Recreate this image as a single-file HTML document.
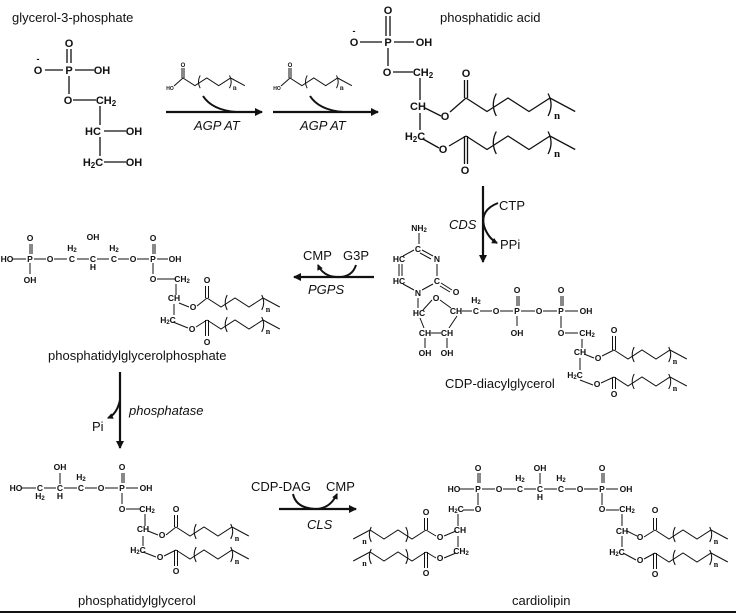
<!DOCTYPE html>
<html><head><meta charset="utf-8"><style>
html,body{margin:0;padding:0;background:#fff}
svg{display:block}
.l{font-family:"Liberation Sans",sans-serif;font-size:13px;fill:#111}
.i{font-family:"Liberation Sans",sans-serif;font-size:13px;font-style:italic;fill:#111}
.a{font-family:"Liberation Sans",sans-serif;font-weight:bold;font-size:11px;fill:#111;text-anchor:middle}
.s{font-family:"Liberation Sans",sans-serif;font-weight:bold;font-size:8.5px;fill:#111;text-anchor:middle}
.n{font-family:"Liberation Serif",serif;font-weight:bold;font-size:8px;fill:#111}
</style></head><body>
<svg id="g" width="736" height="615" viewBox="0 0 736 615" xmlns="http://www.w3.org/2000/svg" stroke="#111" stroke-width="1.3" fill="none">
<defs><marker id="ah" markerWidth="8" markerHeight="8" refX="7" refY="4" orient="auto" markerUnits="userSpaceOnUse"><path d="M0,0 L8,4 L0,8 z" fill="#111" stroke="none"/></marker>
<marker id="sh" markerWidth="6" markerHeight="6" refX="5" refY="3" orient="auto" markerUnits="userSpaceOnUse"><path d="M0,0 L6,3 L0,6 z" fill="#111" stroke="none"/></marker></defs>
<g stroke="none">
<text class="l" x="12" y="22">glycerol-3-phosphate</text>
<text class="l" x="440" y="22">phosphatidic acid</text>
<text class="l" x="48" y="360">phosphatidylglycerolphosphate</text>
<text class="l" x="445" y="388">CDP-diacylglycerol</text>
<text class="l" x="78" y="605">phosphatidylglycerol</text>
<text class="l" x="512" y="605">cardiolipin</text>
<text class="i" x="194" y="130">AGP AT</text>
<text class="i" x="300" y="130">AGP AT</text>
<text class="i" x="449" y="229">CDS</text>
<text class="l" x="499" y="210">CTP</text>
<text class="l" x="500" y="249">PPi</text>
<text class="l" x="303" y="260">CMP</text>
<text class="l" x="343" y="260">G3P</text>
<text class="i" x="308" y="294">PGPS</text>
<text class="i" x="129" y="415">phosphatase</text>
<text class="l" x="92" y="431">Pi</text>
<text class="l" x="251" y="491">CDP-DAG</text>
<text class="l" x="326" y="491">CMP</text>
<text class="i" x="307" y="529">CLS</text>
<!-- G3P -->
<text class="a" x="69" y="47">O</text><text class="a" x="69" y="74">P</text><text class="a" x="38" y="74">O</text><text class="a" x="38" y="62" style="font-size:9px">-</text><text class="a" x="102" y="74">OH</text>
<text class="a" x="68" y="104">O</text><text class="a" x="106" y="104">CH<tspan style="font-size:8px" dy="2">2</tspan></text>
<text class="a" x="93" y="135">HC</text><text class="a" x="134" y="135">OH</text>
<text class="a" x="93" y="166">H<tspan style="font-size:8px" dy="2">2</tspan><tspan dy="-2">C</tspan></text><text class="a" x="134" y="166">OH</text>
<!-- PA -->
<text class="a" x="388" y="14">O</text><text class="a" x="388" y="46">P</text><text class="a" x="354" y="46">O</text><text class="a" x="354" y="34" style="font-size:9px">-</text><text class="a" x="424" y="46">OH</text>
<text class="a" x="387" y="76">O</text><text class="a" x="423" y="76">CH<tspan style="font-size:8px" dy="2">2</tspan></text>
<text class="a" x="418" y="110">CH</text><text class="a" x="415" y="140">H<tspan style="font-size:8px" dy="2">2</tspan><tspan dy="-2">C</tspan></text>
<text class="a" x="445" y="120">O</text><text class="a" x="443" y="153">O</text>
<text class="a" x="466" y="77">O</text><text class="a" x="465" y="174">O</text>
<!-- fatty acids -->
<text class="s" x="170" y="90" style="font-size:5px">HO</text><text class="s" x="183" y="67" style="font-size:6px">O</text>
<text class="s" x="277" y="90" style="font-size:5px">HO</text><text class="s" x="290" y="67" style="font-size:6px">O</text>
<!-- cytidine -->
<text class="s" x="419" y="231">NH<tspan style="font-size:6px" dy="1">2</tspan></text>
<text class="s" x="418" y="252">C</text><text class="s" x="437" y="262">N</text><text class="s" x="437" y="284">C</text><text class="s" x="418" y="296">N</text>
<text class="s" x="399" y="284">HC</text><text class="s" x="399" y="262">HC</text><text class="s" x="456" y="295">O</text>
<text class="s" x="419" y="316">HC</text><text class="s" x="436" y="301">O</text><text class="s" x="456" y="314">CH</text>
<text class="s" x="425" y="336">CH</text><text class="s" x="447" y="336">CH</text><text class="s" x="425" y="356">OH</text><text class="s" x="447" y="356">OH</text>
<text class="s" x="476" y="314">C</text><text class="s" x="476" y="303">H<tspan style="font-size:6px" dy="1">2</tspan></text>
<text class="s" x="496" y="314">O</text><text class="s" x="517" y="314">P</text><text class="s" x="517" y="293">O</text><text class="s" x="517" y="336">OH</text>
<text class="s" x="539" y="314">O</text><text class="s" x="561" y="314">P</text><text class="s" x="561" y="293">O</text><text class="s" x="586" y="314">OH</text>
<text class="s" x="561" y="336">O</text><text class="s" x="587" y="336">CH<tspan style="font-size:6px" dy="1">2</tspan></text>
<text class="s" x="580" y="355">CH</text><text class="s" x="575" y="378">H<tspan style="font-size:6px" dy="1">2</tspan><tspan dy="-1">C</tspan></text>
<text class="s" x="598" y="361">O</text><text class="s" x="597" y="387">O</text><text class="s" x="614" y="333">O</text><text class="s" x="614" y="397">O</text>
<!-- PGP -->
<text class="s" x="7" y="262">HO</text><text class="s" x="30" y="262">P</text><text class="s" x="30" y="241">O</text><text class="s" x="30" y="283">OH</text>
<text class="s" x="50" y="262">O</text><text class="s" x="72" y="262">C</text><text class="s" x="72" y="251">H<tspan style="font-size:6px" dy="1">2</tspan></text>
<text class="s" x="93" y="262">C</text><text class="s" x="93" y="270">H</text><text class="s" x="93" y="240">OH</text>
<text class="s" x="114" y="262">C</text><text class="s" x="114" y="251">H<tspan style="font-size:6px" dy="1">2</tspan></text>
<text class="s" x="133" y="262">O</text><text class="s" x="153" y="262">P</text><text class="s" x="153" y="241">O</text><text class="s" x="175" y="262">OH</text>
<text class="s" x="153" y="282">O</text><text class="s" x="182" y="282">CH<tspan style="font-size:6px" dy="1">2</tspan></text>
<text class="s" x="174" y="301">CH</text><text class="s" x="168" y="323">H<tspan style="font-size:6px" dy="1">2</tspan><tspan dy="-1">C</tspan></text>
<text class="s" x="193" y="310">O</text><text class="s" x="192" y="332">O</text><text class="s" x="207" y="283">O</text><text class="s" x="207" y="345">O</text>
<!-- PG -->
<text class="s" x="16" y="491">HO</text><text class="s" x="40" y="491">C</text><text class="s" x="40" y="499">H<tspan style="font-size:6px" dy="1">2</tspan></text>
<text class="s" x="60" y="491">C</text><text class="s" x="60" y="499">H</text><text class="s" x="60" y="470">OH</text>
<text class="s" x="81" y="491">C</text><text class="s" x="81" y="480">H<tspan style="font-size:6px" dy="1">2</tspan></text>
<text class="s" x="101" y="491">O</text><text class="s" x="122" y="491">P</text><text class="s" x="122" y="470">O</text><text class="s" x="146" y="491">OH</text>
<text class="s" x="122" y="512">O</text><text class="s" x="147" y="512">CH<tspan style="font-size:6px" dy="1">2</tspan></text>
<text class="s" x="143" y="532">CH</text><text class="s" x="138" y="553">H<tspan style="font-size:6px" dy="1">2</tspan><tspan dy="-1">C</tspan></text>
<text class="s" x="162" y="538">O</text><text class="s" x="160" y="560">O</text><text class="s" x="176" y="512">O</text><text class="s" x="176" y="574">O</text>
<!-- cardiolipin -->
<text class="s" x="454" y="492">HO</text><text class="s" x="478" y="492">P</text><text class="s" x="478" y="471">O</text>
<text class="s" x="499" y="492">O</text><text class="s" x="520" y="492">C</text><text class="s" x="520" y="481">H<tspan style="font-size:6px" dy="1">2</tspan></text>
<text class="s" x="540" y="492">C</text><text class="s" x="540" y="500">H</text><text class="s" x="540" y="471">OH</text>
<text class="s" x="561" y="492">C</text><text class="s" x="561" y="481">H<tspan style="font-size:6px" dy="1">2</tspan></text>
<text class="s" x="580" y="492">O</text><text class="s" x="602" y="492">P</text><text class="s" x="602" y="471">O</text><text class="s" x="626" y="492">OH</text>
<text class="s" x="478" y="512">O</text><text class="s" x="456" y="512">H<tspan style="font-size:6px" dy="1">2</tspan><tspan dy="-1">C</tspan></text>
<text class="s" x="460" y="533">CH</text><text class="s" x="461" y="554">CH<tspan style="font-size:6px" dy="1">2</tspan></text>
<text class="s" x="440" y="540">O</text><text class="s" x="440" y="561">O</text><text class="s" x="426" y="515">O</text><text class="s" x="426" y="576">O</text>
<text class="s" x="602" y="512">O</text><text class="s" x="627" y="512">CH<tspan style="font-size:6px" dy="1">2</tspan></text>
<text class="s" x="622" y="534">CH</text><text class="s" x="617" y="555">H<tspan style="font-size:6px" dy="1">2</tspan><tspan dy="-1">C</tspan></text>
<text class="s" x="640" y="540">O</text><text class="s" x="640" y="563">O</text><text class="s" x="655" y="513">O</text><text class="s" x="655" y="577">O</text>
</g>
<g id="dyn"></g>
<!-- G3P bonds -->
<path d="M67,49V63M71,49V63M45,70H63M75,70H94M69,76V94M73,100H96M100,106V125M104,131H126M100,137V156M104,162H126"/>
<!-- PA bonds -->
<path d="M386,16V36M390,16V36M360,42H382M394,42H414M388,48V66M393,72H413M420,78V100M420,113V130M425,108L441,116M423,139L439,148"/>
<!-- reactions -->
<path stroke-width="2.2" marker-end="url(#ah)" d="M166,112H262"/>
<path stroke-width="2.2" marker-end="url(#ah)" d="M273,112H378"/>
<path stroke-width="2" d="M203,96Q212,110 236,112"/><path stroke-width="2" d="M310,96Q319,110 343,112"/>
<path stroke-width="2.2" marker-end="url(#ah)" d="M483,186V262"/>
<path stroke-width="2" marker-end="url(#sh)" d="M498,203Q480,210 484,226Q488,238 497,243"/>
<path stroke-width="2.2" marker-end="url(#ah)" d="M374,277H294"/>
<path stroke-width="2" marker-end="url(#sh)" d="M356,265Q352,278 336,277Q323,276 318,265"/>
<path stroke-width="2.2" marker-end="url(#ah)" d="M120,372V448"/>
<path stroke-width="2" marker-end="url(#sh)" d="M120,400Q117,414 108,418"/>
<path stroke-width="2.2" marker-end="url(#ah)" d="M279,509H356"/>
<path stroke-width="2" marker-end="url(#sh)" d="M293,494Q296,508 315,509Q330,509 337,494"/>
<!-- cytidine bonds -->
<path stroke-width="1" d="M419,233V244M422,250L433,256M420,253L431,259M437,264V276M433,284L422,290M414,290L403,284M399,276V264M402,276V264M403,256L414,250M441,283L452,290M440,286L450,292M418,298V308M423,310L432,300M440,300L451,308M457,316L449,328M420,318L424,328M431,333H441M425,338V348M447,338V348M462,311H472M480,311H492M500,311H513M517,296V306M519,296V306M517,316V326M521,311H535M543,311H557M561,296V306M563,296V306M565,311H578M561,316V328M565,333H578M582,339V348M580,358V370M584,354L594,358M580,380L593,385"/>
<!-- PGP -->
<path stroke-width="1" d="M13,259H26M30,244V254M32,244V254M30,263V274M34,259H46M54,259H67M77,259H89M97,259H109M118,259H129M137,259H149M153,244V254M155,244V254M157,259H168M153,263V274M157,279H176M176,284V295M174,304V315M179,303L189,307M173,322L188,328"/>
<!-- PG -->
<path stroke-width="1" d="M22,488H36M44,488H56M60,473V484M64,488H77M85,488H97M105,488H118M122,473V483M124,473V483M126,488H138M122,493V504M126,509H140M145,514V526M143,536V546M148,531L158,535M143,552L156,557"/>
<!-- cardiolipin -->
<path stroke-width="1" d="M460,489H474M478,473V483M480,473V483M482,489H495M503,489H516M524,489H536M540,473V484M544,489H557M565,489H576M584,489H598M602,473V483M604,473V483M606,489H618M478,493V505M463,510H474M458,514V526M458,536V547M456,531L444,536M456,553L444,558M602,493V505M606,510H619M622,514V526M622,536V547M627,531L637,536M623,553L636,560"/>
<path stroke-width="2" d="M0,612H736"/>
</svg>
<script>
var NS="http://www.w3.org/2000/svg",G=document.getElementById("dyn");
function P(d,w){var p=document.createElementNS(NS,"path");p.setAttribute("d",d);p.setAttribute("stroke-width",w);G.appendChild(p);}
function T(x,y,fs){var t=document.createElementNS(NS,"text");t.setAttribute("x",x);t.setAttribute("y",y);t.setAttribute("class","n");t.setAttribute("stroke","none");t.setAttribute("style","font-size:"+fs+"px");t.textContent="n";G.appendChild(t);}
// tail from carbonyl C at (x,y), scale s, dir 1 right/-1 left
function tail(x,y,s,dir,w){
 var h=9*s,st=14*s,pts=[[0,0],[1,h],[2,0],[3,h],[4,0],[5.2,h]];
 var d="";pts.forEach(function(p,i){d+=(i?"L":"M")+(x+dir*p[0]*st)+","+(y+p[1]);});
 P(d,w);
 var px1=x+dir*1.3*st,px2=x+dir*4.05*st,r=8*s;
 P("M"+(px1+dir*2*s)+","+(y-3*s)+"Q"+(px1-dir*2*s)+","+(y+h/2)+" "+(px1+dir*2*s)+","+(y+h+3*s),w);
 P("M"+(px2-dir*2*s)+","+(y-3*s)+"Q"+(px2+dir*2*s)+","+(y+h/2)+" "+(px2-dir*2*s)+","+(y+h+3*s),w);
 T(dir>0?px2+2*s:px2-7*s,y+h+5*s,8*s>10?11:8*s);
}
function co(x,y,s,up,w,len,ox,oy){ // carbonyl double bond from C to O
 var e=up?y-len:y+len;P("M"+(x-1.5)+","+y+"L"+(x-1.5)+","+e+"M"+(x+1.5)+","+y+"L"+(x+1.5)+","+e,w);
 // O-C bond
 P("M"+ox+","+oy+"L"+x+","+y,w);
}
// fatty acids
[[183,78],[290,78]].forEach(function(c){var x=c[0],y=c[1];P("M"+(x-1)+",68V"+y+"M"+(x+1)+",68V"+y+"M"+(x-9)+","+(y+8)+"L"+x+","+y,1);tail(x,y,0.85,1,1);});
// PA
co(466,98,1.5,true,1.3,18,450,112);tail(466,98,1.5,1,1.3);
co(466,136,1.5,false,1.3,28,449,146);tail(466,136,1.5,1,1.3);
// CDP
co(614,350,1,true,1,14,602,356);tail(614,350,1,1,1);
co(614,377,1,false,1,12,601,383);tail(614,377,1,1,1);
// PGP
co(207,298,1,true,1,12,197,306);tail(207,298,1,1,1);
co(207,320,1,false,1,16,196,327);tail(207,320,1,1,1);
// PG
co(176,527,1,true,1,12,166,535);tail(176,527,1,1,1);
co(176,550,1,false,1,16,164,556);tail(176,550,1,1,1);
// CL left
co(426,530,1,true,1,12,436,536);tail(426,530,1,-1,1);
co(426,552,1,false,1,16,436,558);tail(426,552,1,-1,1);
// CL right
co(655,530,1,true,1,12,644,537);tail(655,530,1,1,1);
co(655,553,1,false,1,16,644,559);tail(655,553,1,1,1);
</script>
</body></html>
